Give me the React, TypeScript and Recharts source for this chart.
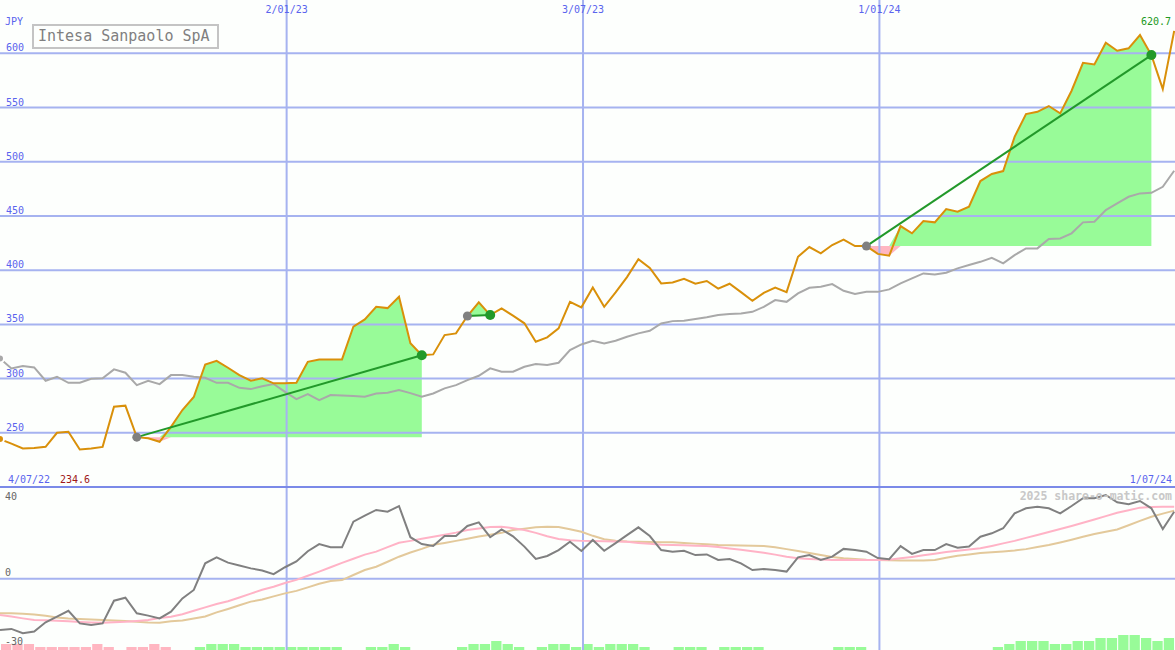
import React from "react";
import {
  ComposedChart,
  Line,
  Area,
  Bar,
  Cell,
  XAxis,
  YAxis,
  ReferenceLine,
  ReferenceDot,
} from "recharts";

// weekly closes, first point = week of 4/07/22
const PRICE = [
  244.2, 240, 235.5, 236, 237.1, 250, 251, 234.6, 235.5, 237,
  274, 275, 246, 245, 241.7, 255.5, 271, 283, 313, 316.4,
  310, 303.2, 298, 300.2, 295.6, 295.8, 296.1, 315.5, 317.5, 317.7,
  317.7, 348, 354.6, 366.2, 365, 375.5, 332.7, 321.5, 322.3, 340.1,
  341.7, 357.7, 370.3, 358.6, 364.8, 358, 351, 334, 338, 346.3,
  370.8, 365.7, 384, 366.2, 379.5, 393.6, 410.2, 402, 387.8, 388.6,
  392, 387.5, 390, 383, 387.5, 379.7, 371.8, 379, 384, 379.7,
  412.4, 421.3, 415.5, 423.2, 428.2, 422.2, 422.2, 415, 413.3, 440.7,
  434, 445.3, 444.1, 456.4, 453.9, 458.5, 482.2, 488.7, 491.4, 523,
  544, 546.1, 551.4, 544.6, 565.5, 591.3, 589.8, 609.8, 602.4, 604.6,
  616.9, 598.4, 567, 620.7,
];

const AVERAGE = [
  318.6, 309.4, 311.5, 310.3, 298, 301.7, 296.1, 296.1, 299.8, 300.2,
  308.5, 305.4, 294, 298, 294.9, 303.2, 303.2, 301.7, 300.7, 296.1,
  296.1, 291.5, 290.3, 293, 295, 287.8, 281.1, 285.7, 280.2, 284.8,
  284.5, 284, 283.2, 286.3, 287, 289.4, 286.6, 283.2, 286.3, 291,
  294, 298.6, 302.6, 309.4, 306.3, 306.3, 310.9, 313.4, 312.5, 314.6,
  326.3, 331.5, 334.9, 332.5, 334.9, 338.6, 341.7, 344.1, 350.9, 353,
  353.3, 354.9, 356.5, 358.6, 359.5, 360.1, 361.6, 366.2, 372.4, 370.8,
  378.6, 383.8, 384.7, 387.2, 381, 378, 380, 380, 382.3, 387.8,
  392.4, 397, 396.1, 397.6, 401.7, 404.7, 407.7, 411.4, 406.3, 413.9,
  420.1, 420.1, 428.7, 429.3, 434, 444.1, 444.6, 455.4, 461.6, 467.7,
  470.8, 471.4, 476.9, 491.7,
];

const MOMENTUM = [
  -22.4, -21.9, -23.8, -23, -19, -16.5, -14, -19.5, -20.2, -19.5,
  -9.6, -8.3, -15.1, -16.1, -17.3, -14.4, -8.6, -4.9, 6.7, 9.3,
  7, 5.8, 4.5, 3.6, 2, 5, 7.5, 12, 15.1, 13.7,
  13.7, 24.9, 27.5, 30, 29.2, 31.7, 18.1, 15.1, 14.3, 18.6,
  18.6, 23, 24.6, 18.1, 21.5, 18.5, 14, 8.6, 9.9, 12.5,
  16.1, 12.1, 16.9, 12.2, 15.5, 19, 22.4, 18.6, 12.5, 11.8,
  12.2, 10.3, 10.6, 8.2, 8.6, 6.7, 3.8, 4.2, 3.8, 3.1,
  9.3, 10.3, 8.2, 9.6, 13, 12.5, 11.8, 9, 8.5, 14.2,
  10.8, 12.5, 12.5, 15.1, 13.5, 14, 18.3, 19.8, 22, 28.5,
  30.7, 31.4, 30.7, 28.5, 31.7, 35.1, 35.1, 36.5, 33.3, 32.5,
  33.9, 30.7, 21.7, 29.2,
];

const SIGNAL_FAST = [
  -15.8, -16.5, -17.3, -18, -18.1, -18.3, -18.6, -18.9, -19.1, -19.2,
  -19, -18.8, -18.4, -18, -17.1, -16.6, -15.5, -14, -12.5, -11,
  -9.8, -8.2, -6.5, -4.8, -3.5, -1.9, -0.5, 1.3, 3.1, 5,
  6.9, 8.7, 10.5, 11.8, 13.8, 15.7, 16.5, 17.4, 18.3, 19.2,
  20.1, 21.2, 21.9, 22.5, 22.7, 22, 21.2, 20, 18.5, 17.3,
  16.8, 16.5, 16.4, 16.3, 16.2, 16.1, 15.6, 15.2, 14.8, 14.7,
  14.6, 14.4, 14.3, 13.8, 13.2, 12.6, 12, 11.3, 10.5, 9.6,
  8.9, 8.6, 8.4, 8.2, 8.2, 8.2, 8.2, 8.2, 8.3, 8.9,
  9.5, 10.2, 10.9, 11.6, 12.2, 12.7, 13.3, 14.3, 15.4, 16.5,
  17.8, 19.1, 20.4, 21.7, 23, 24.4, 25.8, 27.3, 28.8, 29.9,
  31, 31.3, 31.4, 31.4,
];

const SIGNAL_SLOW = [
  -15.1, -15.1, -15.3, -15.6, -16.2, -16.9, -17.4, -17.6, -17.8, -18,
  -18.2, -18.5, -18.8, -19.1, -19.2, -18.6, -18.2, -17.4, -16.5, -14.7,
  -13.2, -11.6, -10, -9.1, -7.7, -6.4, -5.3, -3.8, -2.2, -1,
  -0.6, 1.6, 3.8, 5.2, 7.4, 9.6, 11.4, 13, 14.8, 15.6,
  16.5, 17.4, 18.4, 19.2, 20, 21.2, 21.8, 22.4, 22.7, 22.5,
  21.6, 20.5, 18.7, 17.2, 16.6, 16.2, 16.1, 16, 15.9, 15.9,
  15.6, 15.3, 15, 14.7, 14.6, 14.5, 14.4, 14.3, 13.7, 12.9,
  12.1, 11.2, 10.3, 9.5, 8.9, 8.6, 8.3, 8.2, 8, 7.9,
  7.9, 7.9, 8.2, 9.1, 10, 10.6, 11.2, 11.5, 11.9, 12.3,
  12.9, 13.8, 14.7, 15.8, 17, 18.3, 19.5, 20.5, 21.5, 23.3,
  25.2, 27, 28.4, 29.7,
];

// histogram steps, sign gives the colour
const HISTOGRAM = [
  -2, -2, -2, -1, -1, -1, -1, -1, -2, -1,
  0, -1, -1, -2, -1, 0, 0, 1, 2, 2,
  2, 1, 1, 1, 1, 1, 1, 1, 1, 1,
  0, 0, 1, 1, 2, 1, 0, 0, 0, 0,
  1, 2, 2, 3, 2, 1, 0, 1, 2, 2,
  1, 2, 1, 2, 2, 2, 1, 0, 0, 1,
  1, 1, 0, 1, 1, 1, 1, 0, 0, 0,
  0, 0, 0, 1, 1, 1, 0, 0, 0, 0,
  0, 0, 0, 0, 0, 0, 0, 1, 2, 3,
  3, 3, 2, 2, 3, 3, 4, 4, 5, 5,
  4, 3, 4, 4,
];

// [start week, end week] of each trend segment
const TRENDS = [
  [12, 37],
  [41, 43],
  [76, 101],
];

const PRICE_TICKS = [250, 300, 350, 400, 450, 500, 550, 600];
const LOWER_TICKS = [-30, 0, 40];

const START = Date.UTC(2022, 6, 10);
const DATE_TICKS = [
  { date: Date.UTC(2023, 0, 2), label: "2/01/23" },
  { date: Date.UTC(2023, 6, 3), label: "3/07/23" },
  { date: Date.UTC(2024, 0, 1), label: "1/01/24" },
];

const W = 1175;
const MAIN_H = 487;
const LOWER_H = 163;
const X_MAX = 721.5;
const MONO = "'DejaVu Sans Mono', monospace";
const BLUE = "#5a64ee";
const GRID = "#a6b3f0";
const BG = "#fdfffd";

const toDay = (t: number) => Math.round((t - START) / 86400000);
const gridDays = DATE_TICKS.map((t) => toDay(t.date));

const mainRows = PRICE.map((p, k) => {
  const seg = TRENDS.find(([s, e]) => k >= s && k <= e);
  const base = seg ? PRICE[seg[0]] : 0;
  return {
    d: k * 7,
    price: p,
    avg: AVERAGE[k],
    up: seg ? [base, Math.max(p, base)] : null,
    down: seg ? [Math.min(p, base), base] : null,
  };
});

const lowerRows = MOMENTUM.map((m, k) => ({
  d: k * 7,
  dm: k * 7 + 3.5,
  mom: m,
  fast: SIGNAL_FAST[k],
  slow: SIGNAL_SLOW[k],
  hist: Math.abs(HISTOGRAM[k]),
}));

const PriceTick = (props: any) => (
  <text x={6} y={props.y - 2} fill={BLUE} fontSize={10} fontFamily={MONO}>
    {props.payload.value}
  </text>
);

const LowerTick = (props: any) => {
  const v = props.payload.value;
  return (
    <text
      x={5}
      y={v === 40 ? props.y + 13 : props.y - 2.5}
      fill="#666666"
      fontSize={10}
      fontFamily={MONO}
    >
      {v}
    </text>
  );
};

const DateTick = (props: any) => {
  const t = DATE_TICKS[gridDays.indexOf(props.payload.value)];
  return (
    <text
      x={props.x}
      y={13}
      fill={BLUE}
      fontSize={10}
      fontFamily={MONO}
      textAnchor="middle"
    >
      {t ? t.label : ""}
    </text>
  );
};

export default function App() {
  return (
    <div
      style={{
        position: "absolute",
        left: 0,
        top: 0,
        width: W,
        height: MAIN_H + LOWER_H,
        background: BG,
        overflow: "hidden",
      }}
    >
      <div style={{ position: "absolute", left: 0, top: 0 }}>
        <ComposedChart
          width={W}
          height={MAIN_H}
          data={mainRows}
          margin={{ top: 0, right: 0, bottom: 0, left: 0 }}
        >
          <XAxis
            type="number"
            dataKey="d"
            domain={[0, X_MAX]}
            ticks={gridDays}
            interval={0}
            orientation="top"
            mirror
            axisLine={false}
            tickLine={false}
            tick={DateTick}
            allowDataOverflow
          />
          <YAxis
            type="number"
            domain={[200, 649.2]}
            ticks={PRICE_TICKS}
            interval={0}
            mirror
            axisLine={false}
            tickLine={false}
            tick={PriceTick}
            allowDataOverflow
          />
          <Area
            type="linear"
            dataKey="up"
            stroke="none"
            fill="#98fb98"
            fillOpacity={1}
            isAnimationActive={false}
          />
          <Area
            type="linear"
            dataKey="down"
            stroke="none"
            fill="#ffb6c1"
            fillOpacity={1}
            isAnimationActive={false}
          />
          {PRICE_TICKS.map((v) => (
            <ReferenceLine key={`gy-${v}`} y={v} stroke={GRID} strokeWidth={2} />
          ))}
          {gridDays.map((d) => (
            <ReferenceLine key={`gx-${d}`} x={d} stroke={GRID} strokeWidth={2} />
          ))}
          <Line
            type="linear"
            dataKey="avg"
            stroke="#a9a9a9"
            strokeWidth={2}
            dot={false}
            isAnimationActive={false}
          />
          <Line
            type="linear"
            dataKey="price"
            stroke="#d9900a"
            strokeWidth={2}
            dot={false}
            isAnimationActive={false}
          />
          {TRENDS.map(([s, e]) => (
            <ReferenceLine
              key={`tl-${s}`}
              segment={[
                { x: s * 7, y: PRICE[s] },
                { x: e * 7, y: PRICE[e] },
              ]}
              stroke="#22992a"
              strokeWidth={2}
            />
          ))}
          {TRENDS.map(([s]) => (
            <ReferenceDot
              key={`ds-${s}`}
              x={s * 7}
              y={PRICE[s]}
              r={4.5}
              fill="#808080"
              stroke="none"
            />
          ))}
          {TRENDS.map(([s, e]) => (
            <ReferenceDot
              key={`de-${s}`}
              x={e * 7}
              y={PRICE[e]}
              r={5}
              fill="#22992a"
              stroke="none"
            />
          ))}
        </ComposedChart>
      </div>

      <div style={{ position: "absolute", left: 0, top: MAIN_H }}>
        <ComposedChart
          width={W}
          height={LOWER_H}
          data={lowerRows}
          margin={{ top: 0, right: 0, bottom: 0, left: 0 }}
        >
          <XAxis
            xAxisId="line"
            type="number"
            dataKey="d"
            domain={[0, X_MAX]}
            hide
            allowDataOverflow
          />
          <XAxis
            xAxisId="bar"
            type="number"
            dataKey="dm"
            domain={[0, X_MAX]}
            hide
            allowDataOverflow
          />
          <YAxis
            yAxisId="line"
            type="number"
            domain={[-31.1, 40]}
            ticks={LOWER_TICKS}
            interval={0}
            mirror
            axisLine={false}
            tickLine={false}
            tick={LowerTick}
            allowDataOverflow
          />
          <YAxis
            yAxisId="bar"
            type="number"
            domain={[0, 54.3]}
            hide
            allowDataOverflow
          />
          {gridDays.map((d) => (
            <ReferenceLine
              key={`lx-${d}`}
              xAxisId="line"
              yAxisId="line"
              x={d}
              stroke={GRID}
              strokeWidth={2}
            />
          ))}
          <ReferenceLine
            xAxisId="line"
            yAxisId="line"
            y={0}
            stroke={GRID}
            strokeWidth={2}
          />
          <Bar
            xAxisId="bar"
            yAxisId="bar"
            dataKey="hist"
            barSize={12}
            isAnimationActive={false}
          >
            {lowerRows.map((r, k) => (
              <Cell
                key={`h-${k}`}
                fill={HISTOGRAM[k] < 0 ? "#ffb6c1" : "#98fb98"}
              />
            ))}
          </Bar>
          <Line
            xAxisId="line"
            yAxisId="line"
            type="linear"
            dataKey="slow"
            stroke="#e3c99b"
            strokeWidth={2}
            dot={false}
            isAnimationActive={false}
          />
          <Line
            xAxisId="line"
            yAxisId="line"
            type="linear"
            dataKey="fast"
            stroke="#ffb3c6"
            strokeWidth={2}
            dot={false}
            isAnimationActive={false}
          />
          <Line
            xAxisId="line"
            yAxisId="line"
            type="linear"
            dataKey="mom"
            stroke="#808080"
            strokeWidth={2}
            dot={false}
            isAnimationActive={false}
          />
        </ComposedChart>
      </div>

      <div
        style={{
          position: "absolute",
          left: 0,
          top: MAIN_H - 1,
          width: W,
          height: 2,
          background: "#7b8ae8",
        }}
      />

      <svg
        width={W}
        height={MAIN_H + LOWER_H}
        style={{ position: "absolute", left: 0, top: 0, pointerEvents: "none" }}
        fontFamily={MONO}
      >
        <text x={5} y={25} fill={BLUE} fontSize={10}>
          JPY
        </text>
        <rect
          x={33}
          y={25}
          width={185}
          height={23}
          fill="none"
          stroke="#c4c4c4"
          strokeWidth={2}
        />
        <text x={38} y={41} fill="#808080" fontSize={15}>
          Intesa Sanpaolo SpA
        </text>
        <text x={1171} y={25} fill="#229922" fontSize={10} textAnchor="end">
          {PRICE[PRICE.length - 1].toFixed(1)}
        </text>
        <text x={8} y={483} fill={BLUE} fontSize={10}>
          4/07/22
        </text>
        <text x={60} y={483} fill="#a01818" fontSize={10}>
          {Math.min(...PRICE).toFixed(1)}
        </text>
        <text x={1172} y={483} fill={BLUE} fontSize={10} textAnchor="end">
          1/07/24
        </text>
        <text
          x={1172}
          y={500}
          fill="#c8c8c8"
          fontSize={11.5}
          fontWeight="bold"
          textAnchor="end"
        >
          2025 share-o-matic.com
        </text>
      </svg>
    </div>
  );
}
